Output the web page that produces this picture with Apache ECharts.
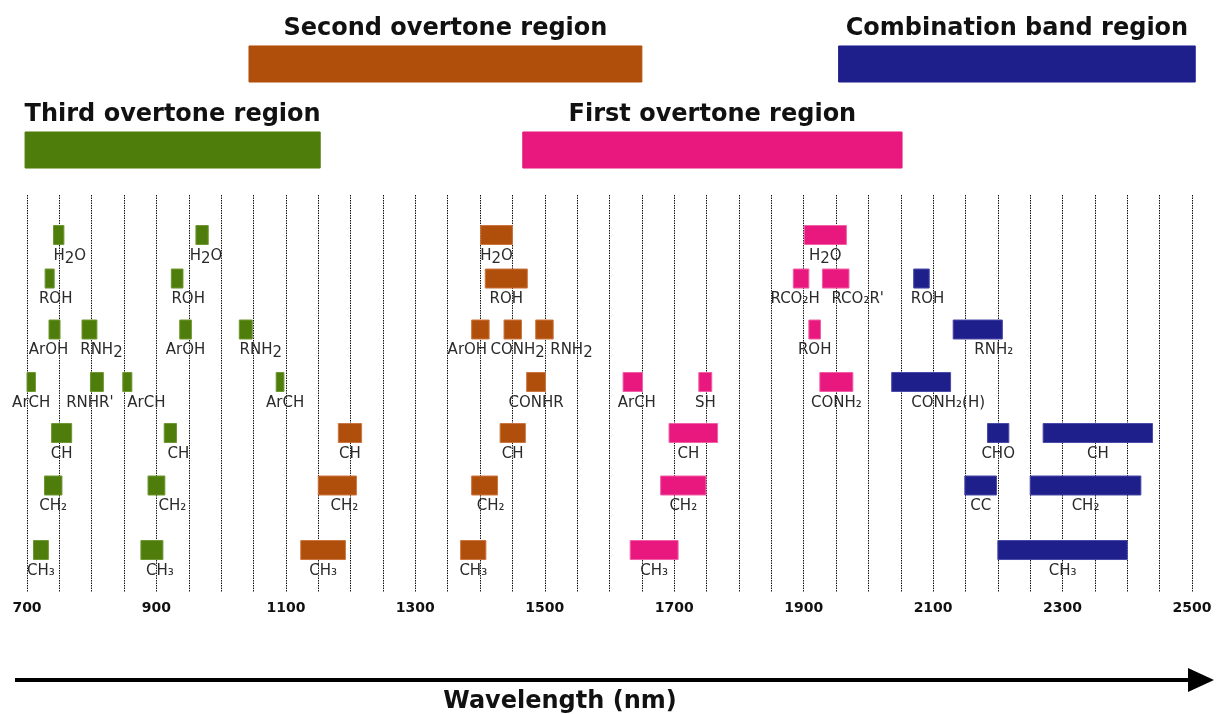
<!DOCTYPE html>
<html>
<head>
<meta charset="utf-8">
<script src="https://cdn.jsdelivr.net/npm/echarts@6/dist/echarts.min.js"></script>
<style>
  html, body { margin: 0; padding: 0; background: #fff; }
  #chart { width: 1217px; height: 714px; }
</style>
</head>
<body>
<div id="chart"></div>
<script>
// wavelength axis (nm)
const xMin = 700
const xMax = 2500
const xTickLabels = [700, 900, 1100, 1300, 1500, 1700, 1900, 2100, 2300, 2500]

// overtone regions: [name, start, end, row]
const regions = [
  ['Third overtone region', 697, 1153, 1],
  ['Second overtone region', 1043, 1650, 0],
  ['First overtone region', 1466, 2052, 1],
  ['Combination band region', 1954, 2505, 0],
]

// band rows (H2O, ROH, ArOH/RNH2, ArCH..., CH, CH2, CH3) -> vertical level
const rowLevel = [0, 0.845, 1.835, 2.854, 3.845, 4.864, 6.117]

// bands: [label, row, start, end]   ({d|2} = lowered full-size digit)
const thirdBands = [
  ['H{d|2}O', 0, 741, 757], ['H{d|2}O', 0, 961, 980],
  ['ROH', 1, 728, 742], ['ROH', 1, 923, 941],
  ['ArOH', 2, 734, 751], ['RNH{d|2}', 2, 785, 808], ['ArOH', 2, 936, 954], ['RNH{d|2}', 2, 1028, 1048],
  ['ArCH', 3, 700, 713], ["RNHR'", 3, 798, 818], ['ArCH', 3, 848, 862], ['ArCH', 3, 1085, 1097],
  ['CH', 4, 738, 769], ['CH', 4, 912, 931],
  ['CH₂', 5, 727, 754], ['CH₂', 5, 887, 913],
  ['CH₃', 6, 710, 733], ['CH₃', 6, 876, 910],
]
const secondBands = [
  ['H{d|2}O', 0, 1401, 1450],
  ['ROH', 1, 1408, 1473],
  ['ArOH', 2, 1387, 1414], ['CONH{d|2}', 2, 1437, 1464], ['RNH{d|2}', 2, 1486, 1513],
  ['CONHR', 3, 1472, 1501],
  ['CH', 4, 1181, 1217], ['CH', 4, 1431, 1470],
  ['CH₂', 5, 1150, 1209], ['CH₂', 5, 1387, 1427],
  ['CH₃', 6, 1123, 1192], ['CH₃', 6, 1370, 1409],
]
const firstBands = [
  ['H{d|2}O', 0, 1901, 1966],
  ['RCO₂H', 1, 1884, 1908], ["RCO₂R'", 1, 1929, 1970],
  ['ROH', 2, 1908, 1926],
  ['ArCH', 3, 1621, 1651], ['SH', 3, 1738, 1758], ['CONH₂', 3, 1925, 1976],
  ['CH', 4, 1692, 1767],
  ['CH₂', 5, 1679, 1749],
  ['CH₃', 6, 1632, 1706],
]
const comboBands = [
  ['ROH', 1, 2070, 2094],
  ['RNH₂', 2, 2131, 2207],
  ['CONH₂(H)', 3, 2036, 2127],
  ['CHO', 4, 2184, 2217], ['CH', 4, 2270, 2439],
  ['CC', 5, 2149, 2198], ['CH₂', 5, 2250, 2421],
  ['CH₃', 6, 2200, 2400],
]

// label nudges (px) so neighbouring labels sit like the original
const labelShift = {
  third: { 0: 11, 1: 4, 2: 6, 3: 11, 4: -6, 5: 12, 7: 15, 9: -7, 10: 19, 11: 5, 13: 8, 15: 16, 17: 8 },
  second: { 2: -13, 3: 5, 4: 27, 8: 7, 9: 6 },
  first: { 1: -6, 2: 22, 4: 4, 7: -5 },
  combo: { 0: 6, 1: 16, 2: 27 },
}

const colors = {
  third: ['#4f7d0b', '#6f9733'],
  second: ['#b04e0b', '#cc7640'],
  first: ['#e8187f', '#f060a6'],
  combo: ['#1f1f8c', '#4a4aa8'],
}

const chart = echarts.init(document.getElementById('chart'))

const rectItem = (h, fill, stroke, text, textStyle, pos, dist, shift) => (params, api) => {
  const s = api.coord([api.value(0), api.value(2)])
  const e = api.coord([api.value(1), api.value(2)])
  const hh = api.size([0, h])[1]
  return {
    type: 'rect',
    shape: { x: s[0], y: s[1] - hh / 2, width: e[0] - s[0], height: hh },
    style: { fill: fill, stroke: stroke, lineWidth: 1 },
    textContent: { style: Object.assign({ text: text(params.dataIndex) }, textStyle) },
    textConfig: { position: pos, distance: dist, offset: [shift(params.dataIndex), 0] },
  }
}

const bandLabel = {
  fontFamily: 'DejaVu Sans', fontSize: 15, lineHeight: 18, fill: '#2a2a2a',
  rich: { d: { fontFamily: 'DejaVu Sans', fontSize: 15, lineHeight: 12, padding: [6, 0, 0, 0], fill: '#2a2a2a' } },
}

const bandSeries = (list, c, key) => ({
  type: 'custom',
  xAxisIndex: 1, yAxisIndex: 1,
  clip: false,
  encode: { x: [0, 1], y: 2 },
  data: list.map(b => [b[2], b[3], rowLevel[b[1]]]),
  renderItem: rectItem(0.369, c[0], c[1], i => list[i][0], bandLabel, 'bottom', 2,
    i => labelShift[key][i] || 0),
})

const regionColor = [colors.third, colors.second, colors.first, colors.combo]

chart.setOption({
  animation: false,
  grid: [
    { left: 27, right: 25, top: 0, height: 190 },
    { left: 27, right: 25, top: 195, bottom: 122 },
  ],
  xAxis: [
    { gridIndex: 0, type: 'value', min: xMin, max: xMax, show: false },
    {
      gridIndex: 1, type: 'value', min: xMin, max: xMax, interval: 50,
      axisLine: { show: false }, axisTick: { show: false },
      splitLine: { show: true, lineStyle: { color: '#111', width: 1, type: [1.5, 1] } },
      axisLabel: {
        margin: 9, fontFamily: 'DejaVu Sans', fontWeight: 'bold', fontSize: 14, color: '#111',
        formatter: v => (xTickLabels.includes(v) ? String(v) : ''),
      },
    },
  ],
  yAxis: [
    { gridIndex: 0, type: 'value', inverse: true, min: -0.744, max: 1.465, show: false },
    { gridIndex: 1, type: 'value', inverse: true, min: -0.777, max: 6.932, show: false },
  ],
  series: [
    ...regions.map((r, k) => ({
      type: 'custom',
      xAxisIndex: 0, yAxisIndex: 0,
      clip: false,
      encode: { x: [0, 1], y: 2 },
      data: [[r[1], r[2], r[3]]],
      renderItem: rectItem(0.419, regionColor[k][0], regionColor[k][0], () => r[0],
        { fontFamily: 'DejaVu Sans', fontWeight: 'bold', fontSize: 24, fill: '#111' }, 'top', 5, () => 0),
    })),
    bandSeries(thirdBands, colors.third, 'third'),
    bandSeries(secondBands, colors.second, 'second'),
    bandSeries(firstBands, colors.first, 'first'),
    bandSeries(comboBands, colors.combo, 'combo'),
  ],
  graphic: [
    { type: 'line', shape: { x1: 15, y1: 680, x2: 1192, y2: 680 }, style: { stroke: '#000', lineWidth: 4 } },
    { type: 'polygon', shape: { points: [[1188, 668], [1214, 680], [1188, 692]] }, style: { fill: '#000' } },
    {
      type: 'text', x: 560, y: 702,
      style: {
        text: 'Wavelength (nm)', fontFamily: 'DejaVu Sans', fontWeight: 'bold', fontSize: 24,
        fill: '#111', align: 'center', verticalAlign: 'middle',
      },
    },
  ],
})
</script>
</body>
</html>
